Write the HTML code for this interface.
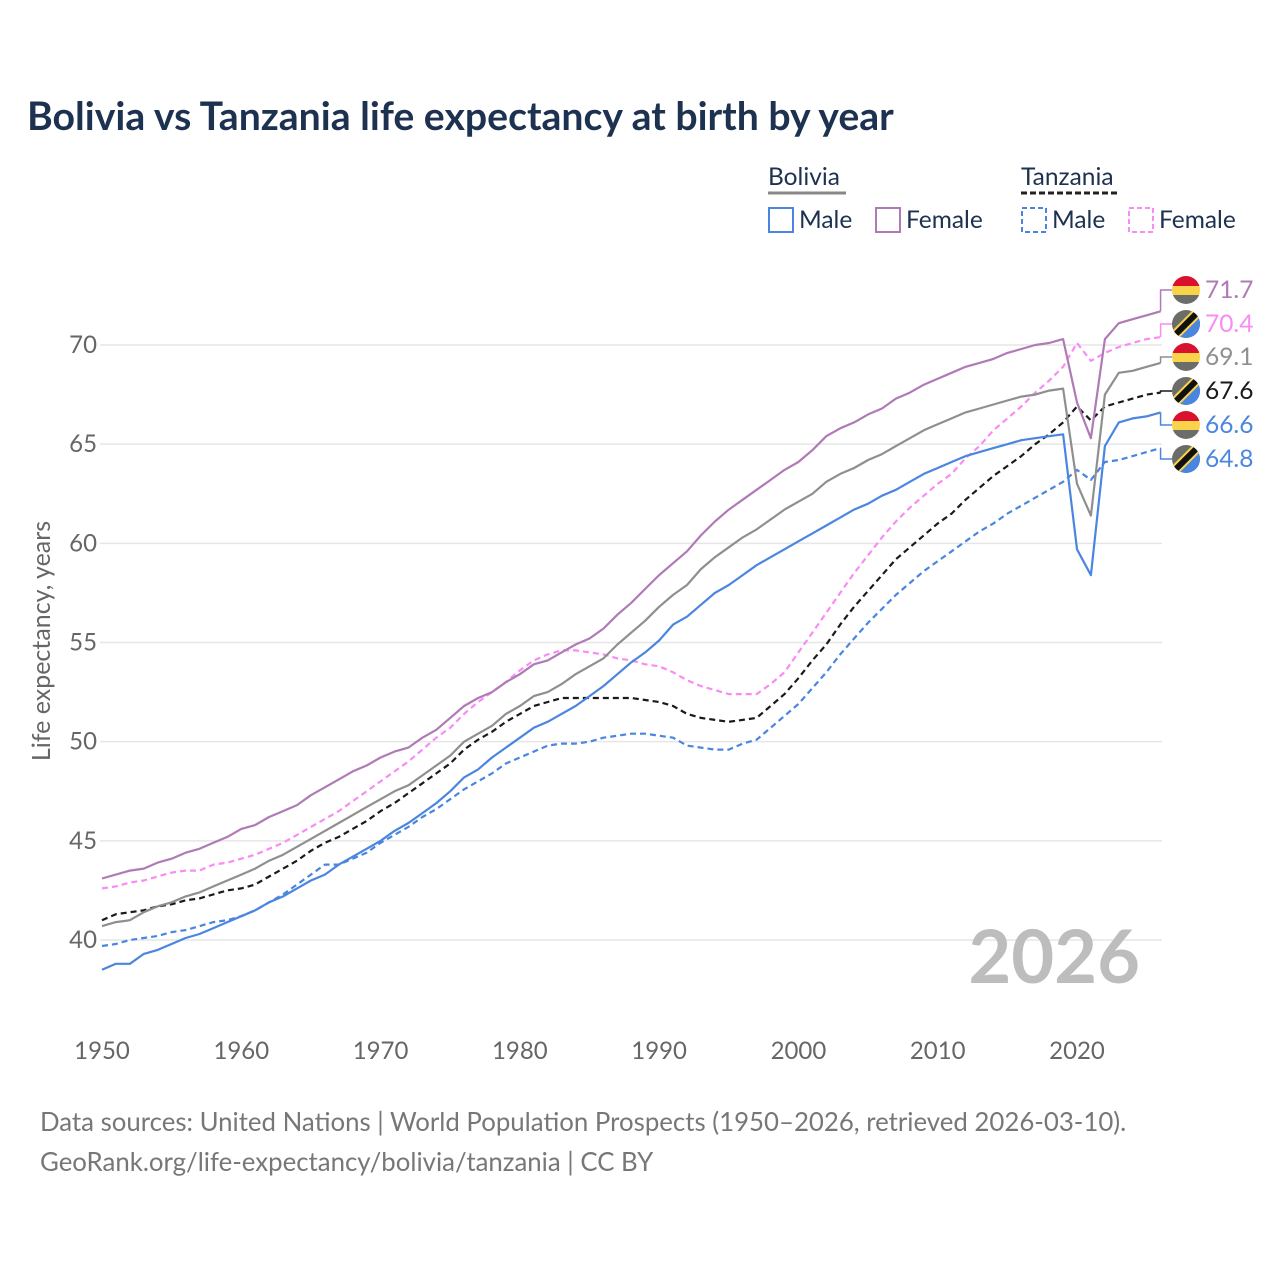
<!DOCTYPE html>
<html><head><meta charset="utf-8"><style>
body{margin:0;background:#fff;font-family:"Liberation Sans",sans-serif}
svg text{font-family:"Lato","Liberation Sans",sans-serif}
</style></head><body>
<svg id="chart" width="1280" height="1280" viewBox="0 0 1280 1280" xmlns="http://www.w3.org/2000/svg">
<rect width="1280" height="1280" fill="#fff"/>
<text x="27" y="130" font-size="39.2" font-weight="bold" fill="#1d3150">Bolivia vs Tanzania life expectancy at birth by year</text>
<g font-size="24.5" fill="#1d3150">
<text x="768" y="185" fill="#1d3150">Bolivia</text>
<line x1="768" y1="193" x2="846" y2="193" stroke="#888" stroke-width="3"/>
<text x="1021" y="185" fill="#1d3150">Tanzania</text>
<line x1="1021" y1="193" x2="1120" y2="193" stroke="#222" stroke-width="3" stroke-dasharray="6,3"/>
<g><rect x="769" y="208" width="24" height="24" fill="none" stroke="#4a86e0" stroke-width="2"/><text x="799" y="228">Male</text></g>
<g><rect x="876" y="208" width="24" height="24" fill="none" stroke="#b07ab6" stroke-width="2"/><text x="906" y="228">Female</text></g>
<g><rect x="1022" y="208" width="24" height="24" fill="none" stroke="#4a86e0" stroke-width="2" stroke-dasharray="5,3"/><text x="1052" y="228">Male</text></g>
<g><rect x="1129" y="208" width="24" height="24" fill="none" stroke="#f98cf4" stroke-width="2" stroke-dasharray="5,3"/><text x="1159" y="228">Female</text></g>
</g>
<g id="grid"></g><g id="series"></g><g id="labels"></g>
<text x="1140" y="983" text-anchor="end" font-size="74" font-weight="bold" fill="#bdbdbd">2026</text>
<text transform="translate(50,641) rotate(-90)" text-anchor="middle" font-size="25" fill="#666">Life expectancy, years</text>
<text x="40" y="1131" font-size="25.8" fill="#777">Data sources: United Nations | World Population Prospects (1950–2026, retrieved 2026-03-10).</text>
<text x="40" y="1171" font-size="25.8" fill="#777">GeoRank.org/life-expectancy/bolivia/tanzania | CC BY</text>
</svg>
<script>
const startYear = 1950;
const xTicks = [1950,1960,1970,1980,1990,2000,2010,2020];
const yTicks = [40,45,50,55,60,65,70];
const boliviaMale = [38.5,38.8,38.8,39.3,39.5,39.8,40.1,40.3,40.6,40.9,41.2,41.5,41.9,42.2,42.6,43.0,43.3,43.8,44.2,44.6,45.0,45.5,45.9,46.4,46.9,47.5,48.2,48.6,49.2,49.7,50.2,50.7,51.0,51.4,51.8,52.3,52.8,53.4,54.0,54.5,55.1,55.9,56.3,56.9,57.5,57.9,58.4,58.9,59.3,59.7,60.1,60.5,60.9,61.3,61.7,62.0,62.4,62.7,63.1,63.5,63.8,64.1,64.4,64.6,64.8,65.0,65.2,65.3,65.4,65.5,59.7,58.4,64.9,66.1,66.3,66.4,66.6];
const boliviaFemale = [43.1,43.3,43.5,43.6,43.9,44.1,44.4,44.6,44.9,45.2,45.6,45.8,46.2,46.5,46.8,47.3,47.7,48.1,48.5,48.8,49.2,49.5,49.7,50.2,50.6,51.2,51.8,52.2,52.5,53.0,53.4,53.9,54.1,54.5,54.9,55.2,55.7,56.4,57.0,57.7,58.4,59.0,59.6,60.4,61.1,61.7,62.2,62.7,63.2,63.7,64.1,64.7,65.4,65.8,66.1,66.5,66.8,67.3,67.6,68.0,68.3,68.6,68.9,69.1,69.3,69.6,69.8,70.0,70.1,70.3,67.1,65.3,70.3,71.1,71.3,71.5,71.7];
const boliviaTotal = [40.7,40.9,41.0,41.4,41.7,41.9,42.2,42.4,42.7,43.0,43.3,43.6,44.0,44.3,44.7,45.1,45.5,45.9,46.3,46.7,47.1,47.5,47.8,48.3,48.8,49.3,50.0,50.4,50.8,51.4,51.8,52.3,52.5,52.9,53.4,53.8,54.2,54.9,55.5,56.1,56.8,57.4,57.9,58.7,59.3,59.8,60.3,60.7,61.2,61.7,62.1,62.5,63.1,63.5,63.8,64.2,64.5,64.9,65.3,65.7,66.0,66.3,66.6,66.8,67.0,67.2,67.4,67.5,67.7,67.8,63.0,61.4,67.5,68.6,68.7,68.9,69.1];
const tanzaniaMale = [39.7,39.8,40.0,40.1,40.2,40.4,40.5,40.7,40.9,41.0,41.2,41.5,41.9,42.3,42.8,43.3,43.8,43.8,44.1,44.4,44.9,45.3,45.7,46.2,46.6,47.1,47.6,48.0,48.4,48.9,49.2,49.5,49.8,49.9,49.9,50.0,50.2,50.3,50.4,50.4,50.3,50.2,49.8,49.7,49.6,49.6,49.9,50.1,50.7,51.3,51.9,52.7,53.5,54.4,55.2,56.0,56.7,57.4,58.0,58.6,59.1,59.6,60.1,60.6,61.0,61.5,61.9,62.3,62.7,63.1,63.7,63.2,64.1,64.2,64.4,64.6,64.8];
const tanzaniaFemale = [42.6,42.7,42.9,43.0,43.2,43.4,43.5,43.5,43.8,43.9,44.1,44.3,44.6,44.9,45.3,45.7,46.1,46.5,47.0,47.5,48.0,48.5,49.0,49.6,50.2,50.7,51.4,52.0,52.5,53.0,53.6,54.1,54.4,54.6,54.6,54.5,54.4,54.2,54.1,53.9,53.8,53.5,53.1,52.8,52.6,52.4,52.4,52.4,52.9,53.5,54.5,55.5,56.5,57.5,58.5,59.4,60.3,61.1,61.8,62.4,63.0,63.5,64.3,64.9,65.7,66.3,66.9,67.6,68.2,68.9,70.1,69.2,69.6,69.9,70.1,70.3,70.4];
const tanzaniaTotal = [41.0,41.3,41.4,41.5,41.7,41.8,42.0,42.1,42.3,42.5,42.6,42.8,43.2,43.6,44.0,44.5,44.9,45.2,45.6,46.0,46.5,46.9,47.4,47.9,48.4,48.9,49.6,50.1,50.5,51.0,51.4,51.8,52.0,52.2,52.2,52.2,52.2,52.2,52.2,52.1,52.0,51.8,51.4,51.2,51.1,51.0,51.1,51.2,51.8,52.4,53.2,54.1,54.9,55.9,56.8,57.6,58.4,59.2,59.8,60.4,61.0,61.5,62.2,62.8,63.4,63.9,64.4,65.0,65.5,66.1,66.9,66.2,66.9,67.1,67.3,67.5,67.6];

const NS='http://www.w3.org/2000/svg';
const X=y=>102+(y-1950)*(1077-102)/70;
const Y=v=>345+(70-v)*(940-345)/30;
function mk(t,a,p){const e=document.createElementNS(NS,t);for(const k in a)e.setAttribute(k,a[k]);p.appendChild(e);return e;}
const grid=document.getElementById('grid');
yTicks.forEach(v=>{
  const l=mk('line',{x1:100,x2:1162,y1:Y(v),y2:Y(v),stroke:'#e6e6e6','stroke-width':1.5},grid);
  
  
  const t=mk('text',{x:97,y:Y(v)+8,'text-anchor':'end','font-size':24,fill:'#666'},grid);
  t.textContent=v;
  
  
});
xTicks.forEach(v=>{
  const t=mk('text',{x:X(v),y:1059,'text-anchor':'middle','font-size':24,fill:'#666'},grid);
  t.textContent=v;
  
  
});
const series=[
 {n:'tanzania-male',d:tanzaniaMale,c:'#4a86e0',dash:'6,4',ly:459,flag:'tz'},
 {n:'tanzania-female',d:tanzaniaFemale,c:'#f98cf4',dash:'6,4',ly:324,flag:'tz'},
 {n:'tanzania-total',d:tanzaniaTotal,c:'#1a1a1a',dash:'6,4',ly:391,flag:'tz'},
 {n:'bolivia-total',d:boliviaTotal,c:'#8f8f8f',dash:null,ly:357,flag:'bo'},
 {n:'bolivia-female',d:boliviaFemale,c:'#b07ab6',dash:null,ly:290,flag:'bo'},
 {n:'bolivia-male',d:boliviaMale,c:'#4a86e0',dash:null,ly:425,flag:'bo'},
];
const sg=document.getElementById('series'),lg=document.getElementById('labels');
series.forEach((s,i)=>{
  const pts=s.d.map((v,j)=>X(startYear+j).toFixed(1)+','+Y(v).toFixed(1)).join(' ');
  const a={points:pts,fill:'none',stroke:s.c,'stroke-width':2.2,'stroke-linejoin':'round'};
  if(s.dash)a['stroke-dasharray']=s.dash;
  const p=mk('polyline',a,sg);
  
  
  const last=s.d[s.d.length-1], ex=X(startYear+s.d.length-1), ey=Y(last);
  const c=mk('polyline',{points:`${ex},${ey} ${ex},${s.ly} 1172,${s.ly}`,fill:'none',stroke:s.c,'stroke-width':1.5},lg);
  
  
  const g=mk('g',{},lg);
  
  
  const cid='clip'+i;
  const cp=mk('clipPath',{id:cid},g);mk('circle',{cx:1186,cy:s.ly,r:14},cp);
  const fg=mk('g',{'clip-path':`url(#${cid})`},g);
  if(s.flag==='bo'){
    mk('rect',{x:1172,y:s.ly-14,width:28,height:10,fill:'#d9102e'},fg);
    mk('rect',{x:1172,y:s.ly-4,width:28,height:9,fill:'#f9d44a'},fg);
    mk('rect',{x:1172,y:s.ly+5,width:28,height:10,fill:'#6b6e68'},fg);
  }else{
    mk('rect',{x:1172,y:s.ly-14,width:28,height:28,fill:'#6b6e68'},fg);
    mk('polygon',{points:`1200,${s.ly-14} 1200,${s.ly+14} 1172,${s.ly+14}`,fill:'#4a86e0'},fg);
    mk('line',{x1:1172,y1:s.ly+14,x2:1200,y2:s.ly-14,stroke:'#f9d44a','stroke-width':10},fg);
    mk('line',{x1:1172,y1:s.ly+14,x2:1200,y2:s.ly-14,stroke:'#111','stroke-width':6},fg);
  }
  const t=mk('text',{x:1205,y:s.ly+8,'font-size':24.5,fill:s.c},lg);
  t.textContent=last.toFixed(1);
  
  
});
</script>
</body></html>
